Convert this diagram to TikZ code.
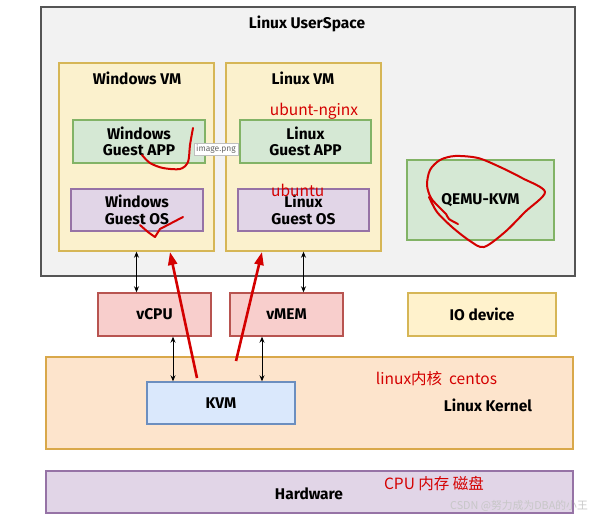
\documentclass[tikz,border=0pt]{standalone}
\usepackage{fontspec}
\setmainfont{Fira Sans}
\newfontfamily\cjk{Noto Sans CJK SC}
\usetikzlibrary{arrows.meta,calc}
\definecolor{usfill}{HTML}{F2F2F2}\definecolor{usdraw}{HTML}{555555}
\definecolor{vmfill}{HTML}{FBF1CD}\definecolor{vmdraw}{HTML}{D6B656}
\definecolor{appfill}{HTML}{D5E8D4}\definecolor{appdraw}{HTML}{82B366}
\definecolor{osfill}{HTML}{E1D5E7}\definecolor{osdraw}{HTML}{9673A6}
\definecolor{cpufill}{HTML}{F8CECC}\definecolor{cpudraw}{HTML}{B85450}
\definecolor{iofill}{HTML}{FFF2CC}
\definecolor{kfill}{HTML}{FDE4CC}\definecolor{kdraw}{HTML}{D9A84A}
\definecolor{kvmfill}{HTML}{DAE8FC}\definecolor{kvmdraw}{HTML}{6C8EBF}
\definecolor{mark}{HTML}{D40000}
\tikzset{
  x=1pt, y=-1pt,
  box/.style 2 args={draw=#2, fill=#1, line width=1.4pt, inner sep=0pt, align=center,
     font=\bfseries\fontsize{15.5}{16.5}\selectfont},
  ttl/.style={inner sep=0pt, font=\bfseries\fontsize{15.5}{16.5}\selectfont},
  redtxt/.style={inner sep=0pt, text=mark, font=\cjk\fontsize{15.5}{17}\selectfont},
  dbl/.style={{Stealth[length=6pt,width=5pt]}-{Stealth[length=6pt,width=5pt]}, line width=0.8pt},
  redarrow/.style={-{Triangle[length=13pt,width=9pt]}, draw=mark, line width=2.6pt},
  scribble/.style={draw=mark, line width=2pt, line cap=round, line join=round},
}
\begin{document}
\begin{tikzpicture}
\useasboundingbox (0,0) rectangle (592,517);
\fill[white] (0,0) rectangle (592,517);
% user space
\node[box={usfill}{usdraw}, minimum width=534pt, minimum height=269pt] (us) at (308,141.5) {};
\node[ttl] (ustitle) at (307,24) {Linux UserSpace};
% VMs
\node[box={vmfill}{vmdraw}, minimum width=155pt, minimum height=188pt] (wvm) at (136.5,157) {};
\node[ttl] (wvmt) at (137,78) {Windows VM};
\node[box={vmfill}{vmdraw}, minimum width=155pt, minimum height=188pt] (lvm) at (303.5,157) {};
\node[ttl] (lvmt) at (303,78) {Linux VM};
\node[box={appfill}{appdraw}, minimum width=132pt, minimum height=43pt] (wapp) at (139,141.5) {Windows\\Guest APP};
\node[box={osfill}{osdraw}, minimum width=132pt, minimum height=42pt] (wos) at (137,210) {Windows\\Guest OS};
\node[box={appfill}{appdraw}, minimum width=131pt, minimum height=43pt] (lapp) at (305.5,141.5) {Linux\\Guest APP};
\node[box={osfill}{osdraw}, minimum width=131pt, minimum height=42pt] (los) at (303.5,210) {Linux\\Guest OS};
\node[box={appfill}{appdraw}, minimum width=147pt, minimum height=80pt] (qemu) at (480.5,200) {QEMU-KVM};
% red annotations
\node[redtxt] (ngx) at (314,111) {ubunt-nginx};
\node[redtxt, anchor=west] (ubu) at (271,190) {ubuntu};
% tooltip
\node[draw=black!25, fill=white, inner xsep=2.5pt, inner ysep=2pt, text=black!60,
      font=\fontsize{8.5}{9}\selectfont] (tip) at (216,149) {image.png};
% middle row
\node[box={cpufill}{cpudraw}, minimum width=113pt, minimum height=43pt] (vcpu) at (154.5,314.5) {vCPU};
\node[box={cpufill}{cpudraw}, minimum width=113pt, minimum height=43pt] (vmem) at (286.5,314.5) {vMEM};
\node[box={iofill}{vmdraw}, minimum width=148pt, minimum height=43pt] (io) at (482,314.5) {IO device};
% kernel
\node[box={kfill}{kdraw}, minimum width=527pt, minimum height=92pt] (kernel) at (309.5,403) {};
\node[ttl] (kt) at (488,405) {Linux Kernel};
\node[redtxt] (kred) at (436.5,379) {linux内核\ \ centos};
\node[box={kvmfill}{kvmdraw}, minimum width=148pt, minimum height=42pt] (kvm) at (221,403) {KVM};
% hardware
\node[box={osfill}{osdraw}, minimum width=527pt, minimum height=42pt] (hw) at (309.5,492) {};
\node[ttl] (hwt) at (309,494) {Hardware};
\node[redtxt] (hwred) at (434,484) {CPU 内存 磁盘};
% black connectors
\draw[dbl] (wvm.south) -- (wvm.south |- vcpu.north);
\draw[dbl] (lvm.south) -- (lvm.south |- vmem.north);
\draw[dbl] ([xshift=18.5pt]vcpu.south) -- ([xshift=18.5pt]vcpu.south |- kvm.north);
\draw[dbl] ([xshift=-24.5pt]vmem.south) -- ([xshift=-24.5pt]vmem.south |- kvm.north);
% red arrows
\coordinate (r1s) at (197,378); \coordinate (r1e) at (170,252);
\coordinate (r2s) at (236,361); \coordinate (r2e) at (262,252);
\draw[redarrow] (r1s) -- (r1e);
\draw[redarrow] (r2s) -- (r2e);
% scribbles
\draw[scribble] plot[smooth] coordinates {(142,155) (150,163) (163,168) (180,169) (188,162) (190,145) (193,128)};
\draw[scribble] plot[smooth] coordinates {(140,225) (148,232) (155,237)} -- (160,229) -- (183,217);
\draw[scribble] plot[smooth] coordinates {(458,224) (449,219) (446,214) (440,208) (431,198) (427,185) (430,170) (440,160) (455,156) (478,158) (500,167) (522,178) (545,192) (525,212) (505,232) (484,247) (470,241) (452,227) (437,212) (429,197)};
% watermark
\node[inner sep=0pt, text=black!22, font=\cjk\fontsize{10.8}{12}\selectfont, anchor=east] (wm) at (588,506) {CSDN @努力成为DBA的小王};
\end{tikzpicture}
\end{document}
